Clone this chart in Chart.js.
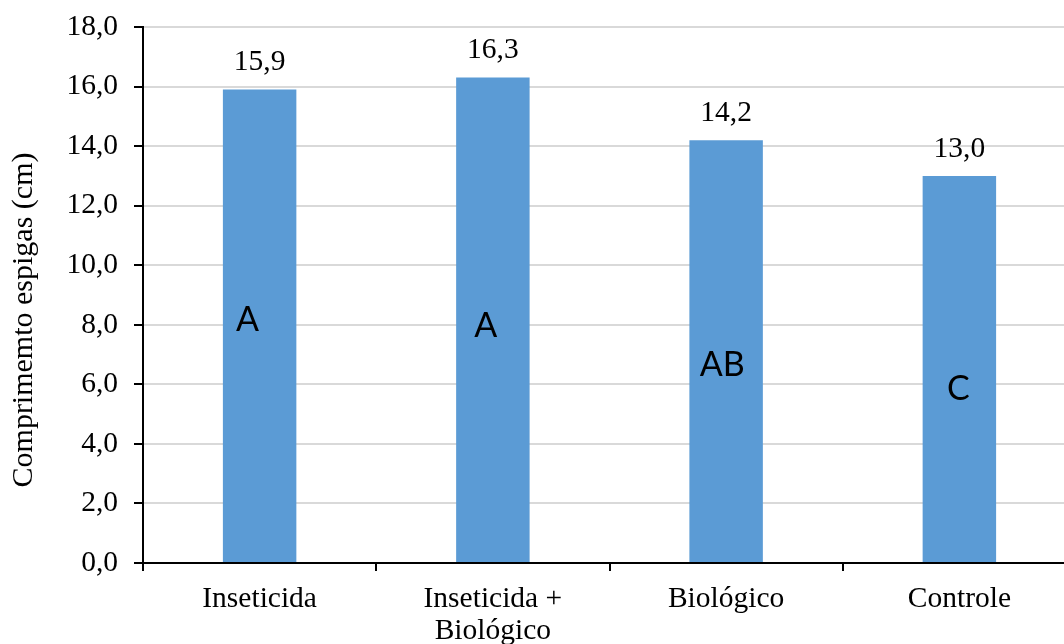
<!DOCTYPE html>
<html>
<head>
<meta charset="utf-8">
<script src="https://cdn.jsdelivr.net/npm/chart.js@4.4.1/dist/chart.umd.min.js"></script>
<style>
  html, body { margin: 0; padding: 0; background: #fff; overflow: hidden; }
  #wrap { width: 1064px; height: 644px; overflow: hidden; position: relative; }
  canvas { display: block; }
</style>
</head>
<body>
<div id="wrap"><canvas id="c" width="1082" height="644"></canvas></div>
<script>
// Ear length by treatment
const categories = [['Inseticida'], ['Inseticida +', 'Biológico'], ['Biológico'], ['Controle']];
const values = [15.9, 16.3, 14.2, 13.0];
const groupLetters = ['A', 'A', 'AB', 'C'];
// vertical placement of the group letters, in axis units
const letterLevels = [8.15, 7.95, 6.65, 5.85];
const yTicks = [0, 2, 4, 6, 8, 10, 12, 14, 16, 18];
const yTitle = 'Comprimemto espigas (cm)';

const serif = '"Liberation Serif", "Times New Roman", serif';
const fmt = v => v.toFixed(1).replace('.', ',');

const annotate = {
  id: 'annotate',
  afterDatasetsDraw(chart) {
    const ctx = chart.ctx;
    const meta = chart.getDatasetMeta(0);
    const y = chart.scales.y;
    const letterShift = [-12, -7, -4, -1];
    ctx.save();
    ctx.fillStyle = '#000';
    ctx.textAlign = 'center';
    ctx.textBaseline = 'middle';
    meta.data.forEach((bar, i) => {
      ctx.font = '29.5px ' + serif;
      ctx.fillText(fmt(values[i]), bar.x, bar.y - 27);
      ctx.font = '34px Lato, "Open Sans", sans-serif';
      ctx.fillText(groupLetters[i], bar.x + letterShift[i], y.getPixelForValue(letterLevels[i]));
    });
    // axis title
    ctx.translate(24, 320);
    ctx.rotate(-Math.PI / 2);
    ctx.font = '30px ' + serif;
    ctx.fillText(yTitle, 0, 0);
    ctx.restore();
  }
};

new Chart(document.getElementById('c'), {
  type: 'bar',
  data: {
    labels: categories,
    datasets: [{
      data: values,
      backgroundColor: '#5b9bd5',
      borderWidth: 0,
      barPercentage: 0.63,
      categoryPercentage: 0.5
    }]
  },
  options: {
    responsive: false,
    animation: false,
    devicePixelRatio: 1,
    layout: { padding: { top: 27, right: 6, left: 0, bottom: 0 } },
    plugins: { legend: { display: false }, tooltip: { enabled: false } },
    scales: {
      x: {
        grid: { drawOnChartArea: false, offset: true, color: '#000', tickColor: '#000', tickLength: 8, lineWidth: 2 },
        border: { color: '#000', width: 2 },
        ticks: { color: '#000', font: { family: serif, size: 29.5, lineHeight: 1.1 }, padding: 12, maxRotation: 0, autoSkip: false },
        afterFit(s) { s.height = 81; s.paddingLeft = 0; s.paddingRight = 0; }
      },
      y: {
        min: 0, max: 18,
        afterBuildTicks(s) { s.ticks = yTicks.map(v => ({ value: v })); },
        grid: { color: '#d9d9d9', tickColor: '#000', tickLength: 9, lineWidth: 2 },
        border: { color: '#000', width: 2 },
        ticks: { color: '#000', font: { family: serif, size: 29.5 }, padding: 16, callback: v => fmt(v) },
        afterFit(s) { s.width = 143; s.paddingTop = 0; s.paddingBottom = 0; }
      }
    }
  },
  plugins: [annotate]
});
</script>
</body>
</html>
